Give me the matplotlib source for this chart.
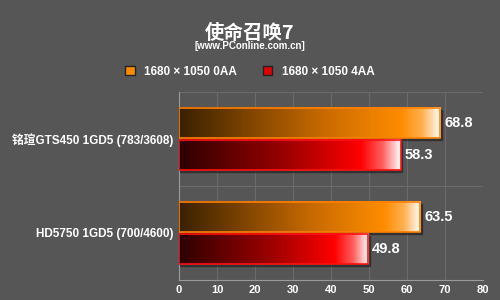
import numpy as np
import matplotlib.pyplot as plt
from matplotlib.colors import LinearSegmentedColormap
from matplotlib.patches import Patch

plt.rcParams['font.family'] = ['Liberation Sans', 'Noto Sans CJK SC', 'DejaVu Sans']

# data
cards = ['铭瑄GTS450 1GD5 (783/3608)', 'HD5750 1GD5 (700/4600)']
series = ['1680 × 1050 0AA', '1680 × 1050 4AA']
fps_0aa = [68.8, 63.5]
fps_4aa = [58.3, 49.8]

bg = '#565656'
orange_cm = LinearSegmentedColormap.from_list(
    'o', [(0, '#3a2100'), (0.55, '#c86a00'), (0.85, '#ff8c00'), (0.93, '#ffb050'), (1, '#ffffff')])
red_cm = LinearSegmentedColormap.from_list(
    'r', [(0, '#2e0000'), (0.5, '#a00000'), (0.82, '#ff0000'), (0.92, '#ff6060'), (1, '#ffffff')])

fig = plt.figure(figsize=(5, 3), dpi=100, facecolor=bg)
ax = fig.add_axes([0.358, 0.067, 0.608, 0.626], facecolor=bg)

centers = np.array([1.5, 0.5])
h = 0.32
grad = np.linspace(0, 1, 256).reshape(1, -1)

for vals, cm, edge, off in [(fps_0aa, orange_cm, '#ff8000', h / 2 + 0.01),
                            (fps_4aa, red_cm, '#ff1010', -h / 2 - 0.01)]:
    for c, v in zip(centers, vals):
        y0 = c + off - h / 2
        # shadow
        ax.add_patch(plt.Rectangle((0, y0 - 0.025), v + 0.4, h, color='#222222', alpha=0.6, zorder=2))
        ax.imshow(grad, cmap=cm, aspect='auto', extent=[0, v, y0, y0 + h], zorder=3)
        ax.add_patch(plt.Rectangle((0, y0), v, h, fill=False, edgecolor=edge, lw=1.2, zorder=4))
        ax.text(v + 1.0, c + off, f'{v:.1f}', color='white', fontsize=10.5, fontweight='bold',
                va='center', ha='left', zorder=5)

ax.set_xlim(0, 80)
ax.set_ylim(0, 2)
ax.set_xticks(range(0, 81, 10))
ax.set_yticks(centers)
ax.set_yticklabels(cards, color='white', fontsize=8.5, fontweight='bold')
ax.tick_params(axis='x', colors='white', labelsize=8, length=0, pad=4)
ax.tick_params(axis='y', length=0, pad=4)
for lab in ax.get_xticklabels():
    lab.set_fontweight('bold')
for x in range(10, 81, 10):
    ax.axvline(x, color='#6a6a6a', lw=0.8, zorder=1)
for y in [1, 2]:
    ax.axhline(y, color='#6a6a6a', lw=0.8, zorder=1)
for s in ['top', 'right']:
    ax.spines[s].set_visible(False)
ax.spines['left'].set_color('#9a9a9a')
ax.spines['bottom'].set_color('#9a9a9a')

fig.text(0.5, 0.89, '使命召唤7', color='white', fontsize=14, fontweight='heavy', ha='center', va='center',
         family=['Noto Sans CJK SC', 'DejaVu Sans'])
fig.text(0.5, 0.846, '[www.PConline.com.cn]', color='white', fontsize=7, fontweight='bold',
         ha='center', va='center')

handles = [Patch(facecolor='#ff8c00', edgecolor='#222222'), Patch(facecolor='#e00000', edgecolor='#222222')]
fig.legend(handles, series, loc='center', bbox_to_anchor=(0.5, 0.76), ncol=2, frameon=False,
           labelcolor='white', handlelength=0.8, handleheight=0.8, columnspacing=2.2,
           prop={'weight': 'bold', 'size': 8.5})

fig.savefig('out.png', dpi=100, facecolor=bg)
